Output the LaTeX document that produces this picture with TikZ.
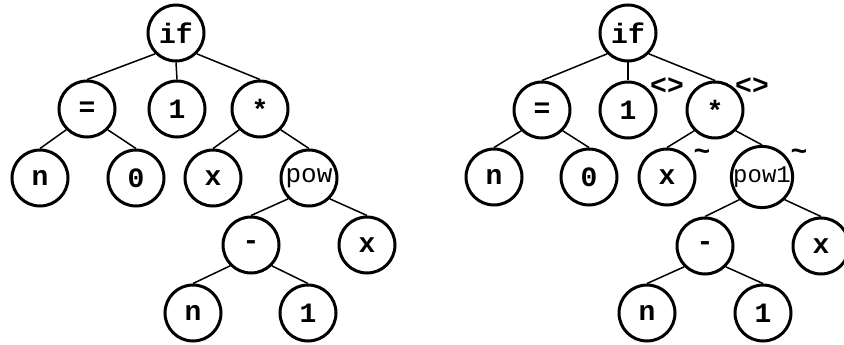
\documentclass[tikz,border=0pt]{standalone}
\usepackage{fontspec}
\setmonofont{Liberation Mono}
\newcommand\treelab{\fontsize{28}{28}\selectfont\ttfamily\bfseries}
\newcommand\treewide{\fontsize{26}{26}\selectfont\ttfamily}
\newcommand\treewider{\fontsize{24}{24}\selectfont\ttfamily}
\tikzset{
  tn/.style={circle, draw, line width=3pt, minimum size=56pt, inner sep=0pt, font=\treelab},
  tw/.style={tn, font=\treewide},
  tww/.style={tn, font=\treewider},
  br/.style={line width=1.5pt},
  mark label/.style={inner sep=0pt, font=\treelab}
}
\begin{document}
\begin{tikzpicture}[x=1pt, y=-1pt]
\useasboundingbox (0,0) rectangle (844,345);
\clip (0,0) rectangle (844,345);

% original tree
\node[tn] (aif)  at (176,33)  {if};
\node[tn] (aeq)  at (87,109)  {=};
\node[tn] (aone) at (177,109) {1};
\node[tn] (amul) at (260,109) {*};
\node[tn] (an)   at (40,178)  {n};
\node[tn] (azero) at (136,178) {0};
\node[tn] (ax)   at (213,178) {x};
\node[tw] (apow) at (309,178) {pow};
\node[tn] (amin) at (251,245) {-};
\node[tn] (ax2)  at (367,245) {x};
\node[tn] (an2)  at (193,313) {n};
\node[tn] (aone2) at (308,313) {1};

\draw[br] (aif.south west) -- (aeq.north);
\draw[br] (aif.south) -- (aone.north);
\draw[br] (aif.south east) -- (amul.north);
\draw[br] (aeq.south west) -- (an.north);
\draw[br] (aeq.south east) -- (azero.north);
\draw[br] (amul.south west) -- (ax.north);
\draw[br] (amul.south east) -- (apow.north);
\draw[br] (apow.south west) -- (amin.north);
\draw[br] (apow.south east) -- (ax2.north);
\draw[br] (amin.south west) -- (an2.north);
\draw[br] (amin.south east) -- (aone2.north);

% rewritten tree
\node[tn] (bif)  at (628,33)  {if};
\node[tn] (beq)  at (542,110) {=};
\node[tn] (bone) at (628,110) {1};
\node[tn] (bmul) at (715,110) {*};
\node[tn] (bn)   at (494,177) {n};
\node[tn] (bzero) at (589,177) {0};
\node[tn] (bx)   at (667,177) {x};
\node[tww] (bpow) at (762,177) {pow1};
\node[tn] (bmin) at (705,246) {-};
\node[tn] (bx2)  at (821,246) {x};
\node[tn] (bn2)  at (647,313) {n};
\node[tn] (bone2) at (763,313) {1};

\draw[br] (bif.south west) -- (beq.north);
\draw[br] (bif.south) -- (bone.north);
\draw[br] (bif.south east) -- (bmul.north);
\draw[br] (beq.south west) -- (bn.north);
\draw[br] (beq.south east) -- (bzero.north);
\draw[br] (bmul.south west) -- (bx.north);
\draw[br] (bmul.south east) -- (bpow.north);
\draw[br] (bpow.south west) -- (bmin.north);
\draw[br] (bpow.south east) -- (bx2.north);
\draw[br] (bmin.south west) -- (bn2.north);
\draw[br] (bmin.south east) -- (bone2.north);

% annotations
\node[mark label] (lone) at (667,86) {<>};
\node[mark label] (lmul) at (752,86) {<>};
\node[mark label] (lx)   at (702,155) {\~{}};
\node[mark label] (lpow) at (799,155) {\~{}};
\end{tikzpicture}
\end{document}
